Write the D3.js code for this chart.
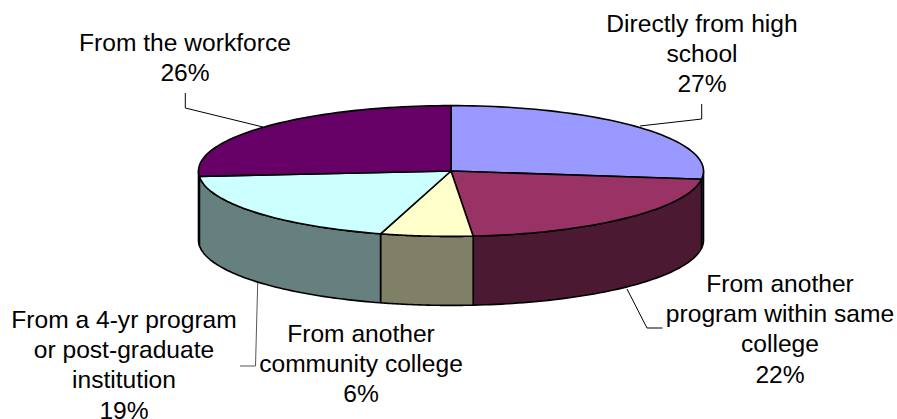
<!DOCTYPE html>
<html><head><meta charset="utf-8">
<script src="https://cdn.jsdelivr.net/npm/d3@7"></script>
<style>html,body{margin:0;padding:0;background:#fff}svg{display:block}text{font-family:"Liberation Sans",Arial,sans-serif;font-size:24.6px;fill:#000;text-anchor:middle}</style>
</head><body><svg id="c" width="897" height="419"></svg>
<script>
const categories=["Directly from high school","From another program within same college","From another community college","From a 4-yr program or post-graduate institution","From the workforce"];
const values=[27.0,21.6,5.9,19.2,26.3];
const percentLabels=["27%","22%","6%","19%","26%"];
const topColors=["#9999FF","#993366","#FFFFCC","#CCFFFF","#660066"];
const sideColors=["#4C4C80","#4C1933","#808066","#668080","#330033"];
const labelLines=[["Directly from high","school","27%"],["From another","program within same","college","22%"],["From another","community college","6%"],["From a 4-yr program","or post-graduate","institution","19%"],["From the workforce","26%"]];
const labelAnchors=[[702,32],[780,292],[361,342],[124,328],[185,50.5]];
const leaders=[[[701.7,104],[701.7,119],[640,126]],[[627,289],[647,328],[662.5,328]],[[257.7,283],[255.5,366],[240,366]],[],[[185.3,93],[185.3,108],[263,127]]];
const leaderColors=["#000","#000","#555","#555","#000"];

const cx=451,cy=171,rx=252.5,ry=65.4,depth=69;
const svg=d3.select("#c");
const scaleX=d3.scaleLinear().domain([-1,1]).range([cx-rx,cx+rx]);
const scaleY=d3.scaleLinear().domain([-1,1]).range([cy-ry,cy+ry]);
const pie=d3.pie().sort(null).value(d=>d)(values);
const pt=(a,dz=0)=>[scaleX(Math.sin(a)),scaleY(-Math.cos(a))+dz];
const line=d3.line();
const samples=(a0,a1,dz)=>d3.range(0,61).map(i=>pt(a0+(a1-a0)*i/60,dz));

svg.append("g").selectAll("path").data(d3.range(leaders.length).filter(i=>leaders[i].length)).join("path")
  .attr("d",i=>line(leaders[i])).attr("fill","none").attr("stroke",i=>leaderColors[i]).attr("stroke-width",1);

const gs=svg.append("g");
pie.forEach((p,i)=>{
  const a0=Math.max(p.startAngle,Math.PI/2),a1=Math.min(p.endAngle,Math.PI*1.5);
  if(a1<=a0)return;
  const path=samples(a0,a1,0).concat(samples(a1,a0,depth));
  gs.append("path").attr("d",line(path)+"Z").attr("fill",sideColors[i]).attr("stroke","#000").attr("stroke-width",1.6).attr("stroke-linejoin","round");
});
const gt=svg.append("g");
pie.forEach((p,i)=>{
  const path=[[scaleX(0),scaleY(0)]].concat(samples(p.startAngle,p.endAngle,0));
  gt.append("path").attr("d",line(path)+"Z").attr("fill",topColors[i]).attr("stroke","#000").attr("stroke-width",1.6).attr("stroke-linejoin","round");
});
const lh=30.2;
const gl=svg.append("g");
labelLines.forEach((ls,i)=>{
  const t=gl.append("text").attr("x",labelAnchors[i][0]).attr("y",labelAnchors[i][1]);
  ls.forEach((s,j)=>t.append("tspan").attr("x",labelAnchors[i][0]).attr("y",labelAnchors[i][1]+j*lh).text(s));
});
</script></body></html>
